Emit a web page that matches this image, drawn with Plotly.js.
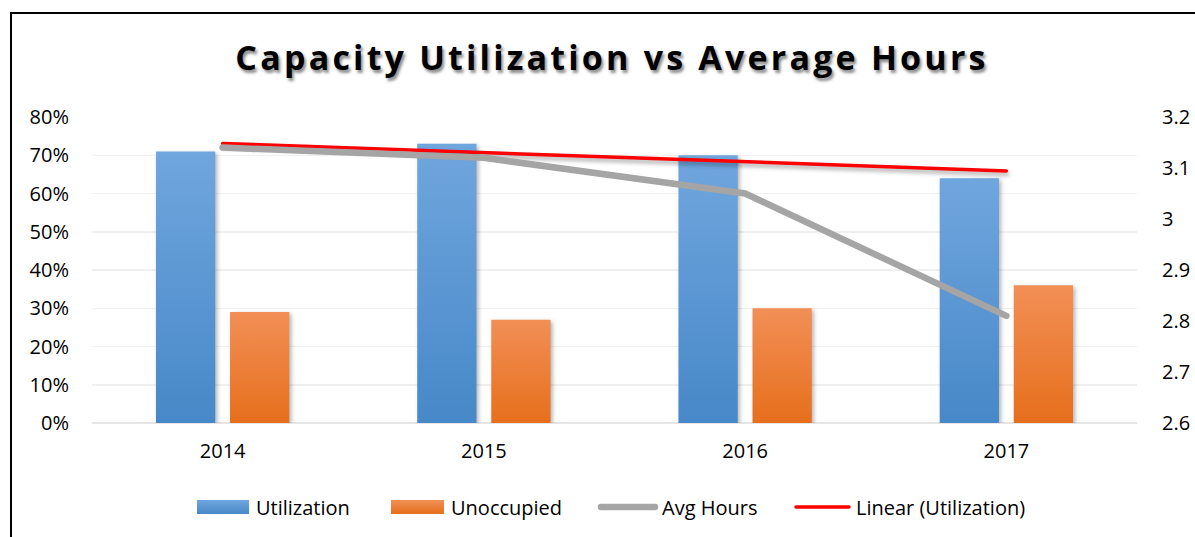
<!DOCTYPE html>
<html>
<head>
<meta charset="utf-8">
<script src="https://cdn.plot.ly/plotly-3.0.1.min.js"></script>
<style>
  html, body { margin:0; padding:0; background:#fff; overflow:hidden; }
  #wrap { position:relative; width:1195px; height:537px; }
  #chart { width:1195px; height:537px; }
  #frame { position:absolute; left:10px; top:12px; width:1300px; height:700px;
           border-left:2px solid #000; border-top:2px solid #000; pointer-events:none; }
  .gtitle { letter-spacing: 3.2px; }
</style>
</head>
<body>
<div id="wrap">
  <div id="chart"></div>
  <div id="frame"></div>
</div>
<script>
// ---- data ----
const years = ['2014', '2015', '2016', '2017'];
const utilization = [0.71, 0.73, 0.70, 0.64];
const unoccupied = [0.29, 0.27, 0.30, 0.36];
const avgHours = [3.14, 3.12, 3.05, 2.81];
const leftTicks = [0, 0.1, 0.2, 0.3, 0.4, 0.5, 0.6, 0.7, 0.8];
const rightTicks = [2.6, 2.7, 2.8, 2.9, 3.0, 3.1, 3.2];
const rightTickText = ['2.6', '2.7', '2.8', '2.9', '3', '3.1', '3.2'];
const seriesNames = ['Utilization', 'Unoccupied', 'Avg Hours', 'Linear (Utilization)'];

// linear trendline of Utilization (least squares over index 1..n)
function linearFit(vals) {
  const n = vals.length;
  const xs = vals.map((_, i) => i + 1);
  const mx = xs.reduce((a, b) => a + b, 0) / n;
  const my = vals.reduce((a, b) => a + b, 0) / n;
  let sxy = 0, sxx = 0;
  xs.forEach((x, i) => { sxy += (x - mx) * (vals[i] - my); sxx += (x - mx) * (x - mx); });
  const slope = sxy / sxx;
  return xs.map(x => my + slope * (x - mx));
}
const trend = linearFit(utilization);

const FONT = 'Open Sans, Noto Sans, sans-serif';
const BLUE = '#5b9bd5', ORANGE = '#ed7d31', GRAY = '#a5a5a5', RED = '#ff0000';

const traces = [
  { type: 'bar', x: years, y: utilization, name: seriesNames[0], marker: { color: BLUE }, yaxis: 'y', showlegend: false },
  { type: 'bar', x: years, y: unoccupied, name: seriesNames[1], marker: { color: ORANGE }, yaxis: 'y', showlegend: false },
  { type: 'scatter', mode: 'lines', x: years, y: avgHours, name: seriesNames[2], yaxis: 'y2',
    line: { color: GRAY, width: 6.5 }, showlegend: false },
  { type: 'scatter', mode: 'lines', x: years, y: trend, name: seriesNames[3], yaxis: 'y',
    line: { color: RED, width: 3.5 }, showlegend: false }
];

// plot area geometry (px) for custom legend
const L = 92, R = 58, T = 117, B = 114, W = 1195, H = 537;
const pw = W - L - R, ph = H - T - B;
const px = v => (v - L) / pw;
const py = v => (H - B - v) / ph;
const legY = 507;

const legendShapes = [
  { type: 'rect', xref: 'paper', yref: 'paper', x0: px(197), x1: px(249), y0: py(514), y1: py(500),
    fillcolor: BLUE, line: { width: 0 } },
  { type: 'rect', xref: 'paper', yref: 'paper', x0: px(391), x1: px(444), y0: py(514), y1: py(500),
    fillcolor: ORANGE, line: { width: 0 } },
  { type: 'line', xref: 'paper', yref: 'paper', x0: px(601), x1: px(655), y0: py(legY), y1: py(legY),
    line: { color: GRAY, width: 6.5 } },
  { type: 'line', xref: 'paper', yref: 'paper', x0: px(796), x1: px(849), y0: py(legY), y1: py(legY),
    line: { color: RED, width: 3.5 } }
];
const legendTextX = [254, 449, 660, 854];
const legendAnn = seriesNames.map((nm, i) => ({
  xref: 'paper', yref: 'paper', x: px(legendTextX[i]), y: py(legY), xanchor: 'left', yanchor: 'middle',
  text: nm, showarrow: false, font: { family: FONT, size: 20, color: '#000' }
}));

const layout = {
  width: W, height: H,
  margin: { l: L, r: R, t: T, b: B },
  paper_bgcolor: '#fff', plot_bgcolor: '#fff',
  font: { family: FONT, size: 20, color: '#000' },
  title: {
    text: '<b>Capacity Utilization vs Average Hours</b>',
    font: { family: FONT, size: 34, color: '#000', shadow: '2px 3px 3px rgba(0,0,0,0.45)' },
    xref: 'container', x: 612 / W, xanchor: 'center',
    yref: 'container', y: 1 - 58 / H, yanchor: 'middle'
  },
  barmode: 'group', bargap: 0.433, bargroupgap: 0.2,
  showlegend: false,
  xaxis: {
    type: 'category', showgrid: false, zeroline: false, showline: false, ticks: '',
    tickfont: { family: FONT, size: 20, color: '#000' }, ticklabelstandoff: 14
  },
  yaxis: {
    range: [0, 0.8], tickvals: leftTicks, tickformat: '.0%',
    showgrid: true, gridcolor: '#f0f0f0', gridwidth: 1.5, zeroline: true, zerolinecolor: '#e6e6e6', zerolinewidth: 2,
    showline: false, ticks: '', tickfont: { family: FONT, size: 20, color: '#000' }, ticklabelstandoff: 22
  },
  yaxis2: {
    overlaying: 'y', side: 'right', range: [2.6, 3.2], tickvals: rightTicks, ticktext: rightTickText,
    showgrid: false, zeroline: false, showline: false, ticks: '',
    tickfont: { family: FONT, size: 20, color: '#000' }, ticklabelstandoff: 24
  },
  shapes: legendShapes,
  annotations: legendAnn
};

Plotly.newPlot('chart', traces, layout, { displayModeBar: false, staticPlot: true }).then(gd => {
  const svg = gd.querySelector('.main-svg');
  const NS = 'http://www.w3.org/2000/svg';
  let defs = svg.querySelector('defs');
  if (!defs) { defs = document.createElementNS(NS, 'defs'); svg.insertBefore(defs, svg.firstChild); }
  function grad(id, top, bottom) {
    const g = document.createElementNS(NS, 'linearGradient');
    g.setAttribute('id', id); g.setAttribute('x1', '0'); g.setAttribute('y1', '0');
    g.setAttribute('x2', '0'); g.setAttribute('y2', '1');
    [[0, top], [1, bottom]].forEach(([o, c]) => {
      const s = document.createElementNS(NS, 'stop');
      s.setAttribute('offset', o); s.setAttribute('stop-color', c); g.appendChild(s);
    });
    defs.appendChild(g);
  }
  grad('gBlue', '#70a6de', '#4788c8');
  grad('gOrange', '#f28f56', '#e66f1c');
  const barTraces = gd.querySelectorAll('.barlayer .trace');
  const ids = ['gBlue', 'gOrange'];
  barTraces.forEach((t, i) => {
    t.querySelectorAll('path').forEach(p => {
      p.style.fill = 'url(#' + ids[i] + ')';
      p.style.filter = 'drop-shadow(2px 2px 2px rgba(0,0,0,0.3))';
    });
  });
  const lineTraces = gd.querySelectorAll('.scatterlayer .trace');
  lineTraces.forEach((t, i) => {
    t.querySelectorAll('path.js-line').forEach(p => {
      p.style.strokeLinecap = 'round';
      if (i === 0) p.style.filter = 'drop-shadow(1px 3px 2px rgba(0,0,0,0.35))';
    });
  });
  const shapePaths = gd.querySelectorAll('.shapelayer path');
  if (shapePaths.length >= 4) {
    shapePaths[0].style.fill = 'url(#gBlue)';
    shapePaths[1].style.fill = 'url(#gOrange)';
    shapePaths[2].style.strokeLinecap = 'round';
    shapePaths[3].style.strokeLinecap = 'round';
  }
});
</script>
</body>
</html>
